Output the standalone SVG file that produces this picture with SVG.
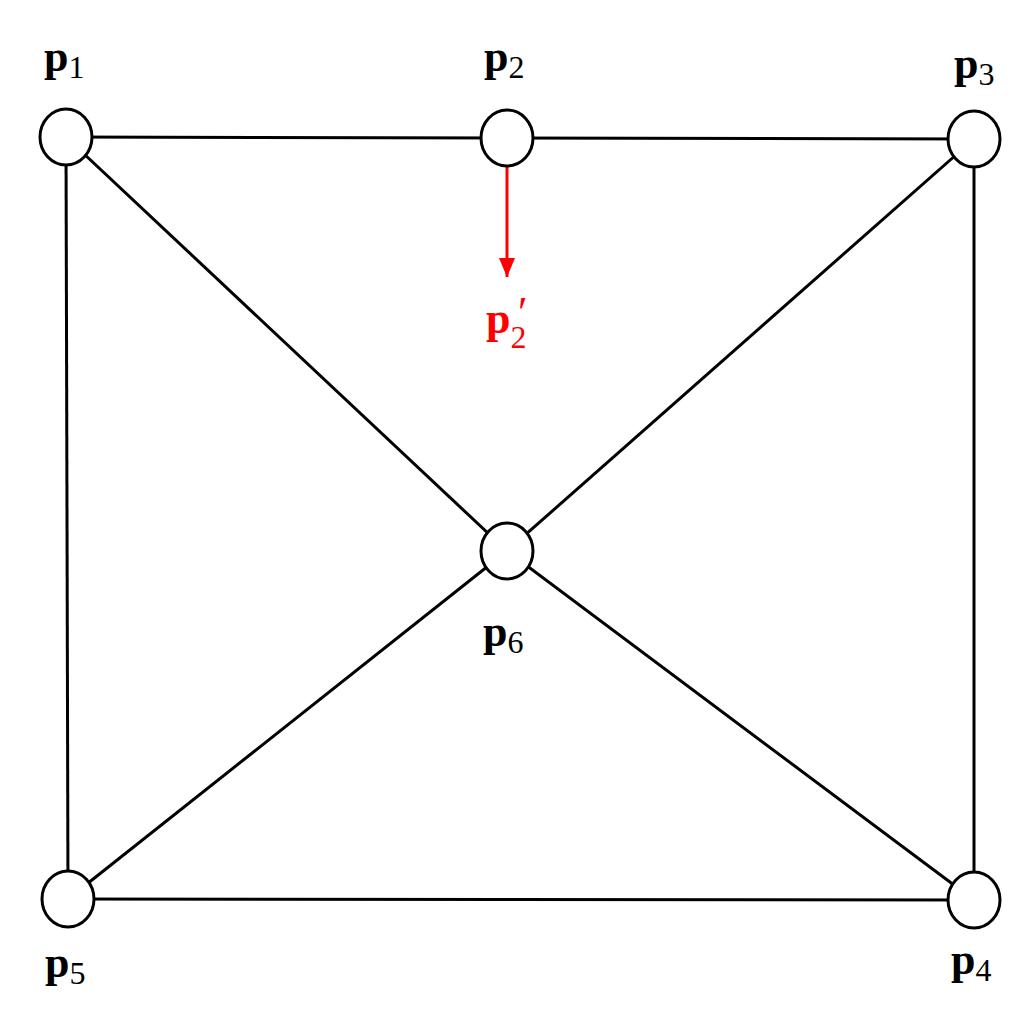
<svg xmlns="http://www.w3.org/2000/svg" width="1024" height="1024" viewBox="0 0 1024 1024">
<defs>
<style>
.edge{stroke:#000;stroke-width:3;fill:none}
.node{fill:#fff;stroke:#000;stroke-width:3}
.lbl{font-family:"Liberation Serif","DejaVu Serif",serif;font-size:44px;font-weight:bold;fill:#000}
.sub{font-weight:normal;font-size:32px}
.red{fill:#ff0000}
</style>
<marker id="ah" markerWidth="20" markerHeight="18" refX="19" refY="8" orient="auto" markerUnits="userSpaceOnUse">
<path d="M0,0 L19,8 L0,16 Z" fill="#ff0000"/>
</marker>
</defs>
<rect width="1024" height="1024" fill="#fff"/>
<g id="connectors">
<line class="edge" x1="66" y1="137" x2="507" y2="138"/>
<line class="edge" x1="507" y1="138" x2="974" y2="139"/>
<line class="edge" x1="66" y1="137" x2="68" y2="899"/>
<line class="edge" x1="974" y1="139" x2="974" y2="900"/>
<line class="edge" x1="68" y1="899" x2="974" y2="900"/>
<line class="edge" x1="66" y1="137" x2="507" y2="551"/>
<line class="edge" x1="974" y1="139" x2="507" y2="551"/>
<line class="edge" x1="68" y1="899" x2="507" y2="551"/>
<line class="edge" x1="974" y1="900" x2="507" y2="551"/>
<line x1="507" y1="164" x2="507" y2="277" stroke="#ff0000" stroke-width="3" marker-end="url(#ah)"/>
</g>
<g id="p1"><ellipse class="node" cx="66" cy="137" rx="26" ry="28"/><text class="lbl" x="44" y="71">p<tspan class="sub" dy="7">1</tspan></text></g>
<g id="p2"><ellipse class="node" cx="507" cy="138" rx="26" ry="28"/><text class="lbl" x="484" y="71">p<tspan class="sub" dy="7">2</tspan></text></g>
<g id="p3"><ellipse class="node" cx="974" cy="139" rx="26" ry="28"/><text class="lbl" x="954" y="78">p<tspan class="sub" dy="7">3</tspan></text></g>
<g id="p6"><ellipse class="node" cx="507" cy="551" rx="26" ry="28"/><text class="lbl" x="483" y="646">p<tspan class="sub" dy="7">6</tspan></text></g>
<g id="p5"><ellipse class="node" cx="68" cy="899" rx="26" ry="28"/><text class="lbl" x="45" y="977">p<tspan class="sub" dy="7">5</tspan></text></g>
<g id="p4"><ellipse class="node" cx="974" cy="900" rx="26" ry="28"/><text class="lbl" x="951" y="974">p<tspan class="sub" dy="7">4</tspan></text></g>
<g id="p2prime"><text class="lbl red" x="486" y="333">p<tspan class="sub" dy="15">2</tspan><tspan class="sub" x="518" y="327" style="font-size:44px">′</tspan></text></g>
</svg>
